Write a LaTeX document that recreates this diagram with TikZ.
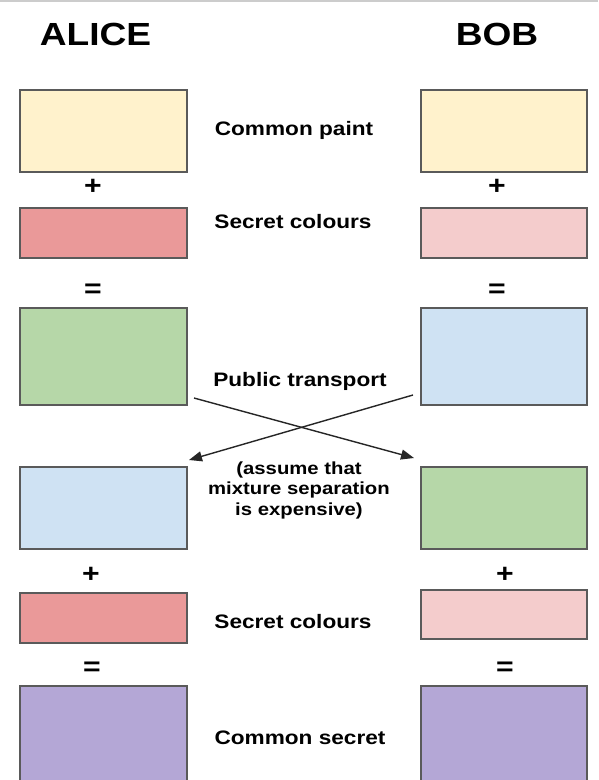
\documentclass[tikz,border=0pt]{standalone}
\usepackage{fontspec}
\setmainfont{Liberation Sans}[FakeStretch=1.16]
\usetikzlibrary{arrows.meta}
\definecolor{bordc}{HTML}{5A5A5A}
\definecolor{cyellow}{HTML}{FFF2CC}
\definecolor{cred}{HTML}{EA9999}
\definecolor{cpink}{HTML}{F4CCCC}
\definecolor{cgreen}{HTML}{B6D7A8}
\definecolor{cblue}{HTML}{CFE2F3}
\definecolor{cpurple}{HTML}{B4A7D6}
\tikzset{
  box/.style={draw=bordc, line width=1.8pt, rectangle, inner sep=0pt},
  lbox/.style={box, minimum width=167pt},
  rbox/.style={box, minimum width=166pt},
  head/.style={font=\fontsize{32}{36}\selectfont\bfseries, inner sep=0pt},
  lab/.style={font=\fontsize{19.5}{22}\selectfont\bfseries, inner sep=0pt},
  note/.style={font=\fontsize{17.5}{20.5}\selectfont\bfseries, align=center, inner sep=0pt},
  sign/.style={font=\fontsize{26}{28}\selectfont\bfseries, inner sep=0pt},
  xarrow/.style={draw=black!85, line width=1.4pt, -{Triangle[length=13pt,width=10pt]}}
}
\begin{document}
\begin{tikzpicture}[x=1pt,y=-1pt]
\useasboundingbox (0,0) rectangle (598,780);
\clip (0,0) rectangle (598,780);
\fill[white] (0,0) rectangle (598,780);
\draw[black!20, line width=2pt] (0,0.5) -- (598,0.5);
% headers
\node[head] (alice) at (95.5,34) {ALICE};
\node[head] (bob) at (497,34) {BOB};
% row 1
\node[lbox, fill=cyellow, minimum height=82pt] (a1) at (103.5,131) {};
\node[rbox, fill=cyellow, minimum height=82pt] (b1) at (504,131) {};
\node[lab] (l1) at (294,130) {Common paint};
\node[sign] (ap1) at (93,187) {+};
\node[sign] (bp1) at (497,187) {+};
% row 2
\node[lbox, fill=cred, minimum height=50pt] (a2) at (103.5,233) {};
\node[rbox, fill=cpink, minimum height=50pt] (b2) at (504,233) {};
\node[lab] (l2) at (293,222) {Secret colours};
\node[sign] (ae1) at (93,291) {=};
\node[sign] (be1) at (497,291) {=};
% row 3
\node[lbox, fill=cgreen, minimum height=97pt] (a3) at (103.5,356.5) {};
\node[rbox, fill=cblue, minimum height=97pt] (b3) at (504,356.5) {};
\node[lab] (l3) at (300,381) {Public transport};
% crossing arrows
\coordinate (s1) at (194,398);
\coordinate (t1) at (414,458);
\coordinate (s2) at (413,395);
\coordinate (t2) at (189,460);
\draw[xarrow] (s1) -- (t1);
\draw[xarrow] (s2) -- (t2);
% row 4
\node[lbox, fill=cblue, minimum height=82pt] (a4) at (103.5,508) {};
\node[rbox, fill=cgreen, minimum height=82pt] (b4) at (504,508) {};
\node[note] (l4) at (299,490) {(assume that\\mixture separation\\is expensive)};
\node[sign] (ap2) at (91,575) {+};
\node[sign] (bp2) at (505,575) {+};
% row 5
\node[lbox, fill=cred, minimum height=50pt] (a5) at (103.5,618) {};
\node[rbox, fill=cpink, minimum height=49pt] (b5) at (504,614.5) {};
\node[lab] (l5) at (293,622) {Secret colours};
\node[sign] (ae2) at (92,669) {=};
\node[sign] (be2) at (505,669) {=};
% row 6
\node[lbox, fill=cpurple, minimum height=114pt] (a6) at (103.5,743) {};
\node[rbox, fill=cpurple, minimum height=114pt] (b6) at (504,743) {};
\node[lab] (l6) at (300,738) {Common secret};
\end{tikzpicture}
\end{document}
